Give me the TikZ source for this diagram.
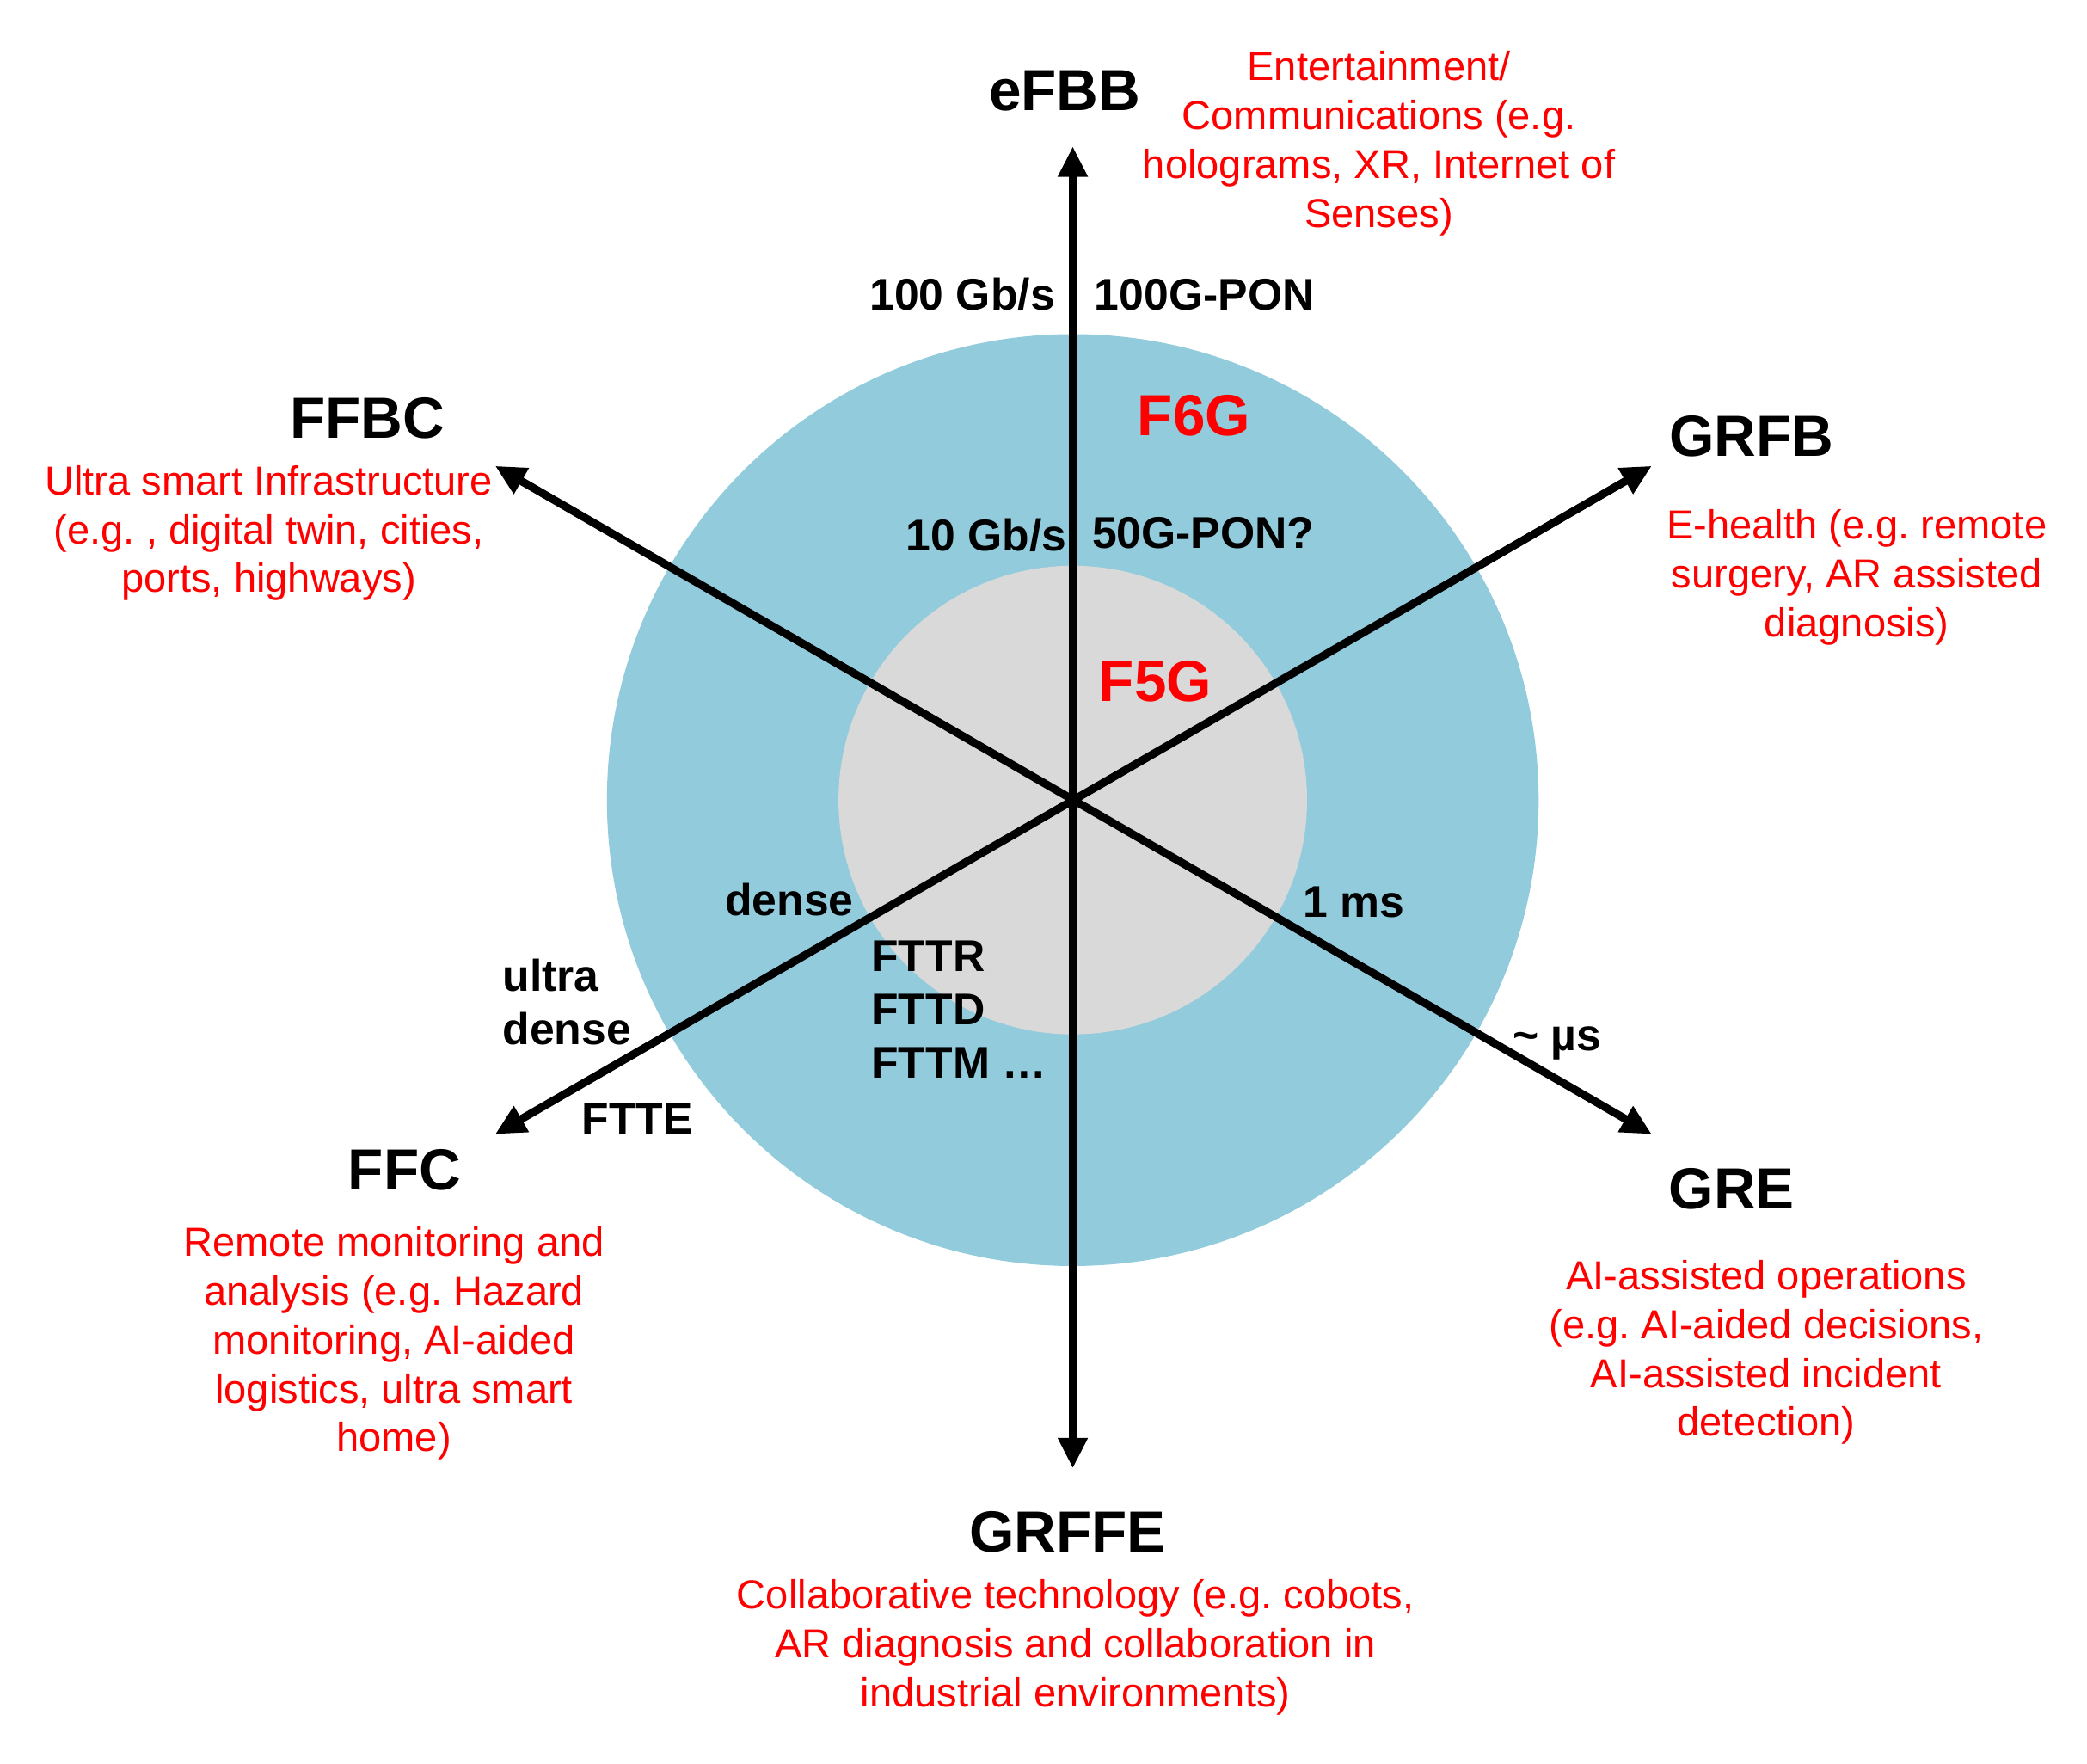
\documentclass[tikz,border=0pt]{standalone}
\usepackage{fontspec}
\setmainfont{Liberation Sans}
\usetikzlibrary{arrows.meta}
\frenchspacing

\definecolor{ringblue}{RGB}{146,203,220}
\definecolor{coregray}{RGB}{217,217,217}
\definecolor{usered}{RGB}{255,0,0}

\begin{document}
\begin{tikzpicture}[x=0.1mm, y=-0.1mm,
    axis/.style={line width=1.7pt, {Triangle[length=6.5pt,width=6pt]}-{Triangle[length=6.5pt,width=6pt]}},
    service/.style={font=\fontsize{12.4}{14.9}\selectfont\bfseries, inner sep=0pt, anchor=base},
    gen/.style={service, text=usered},
    usecase/.style={font=\fontsize{8.65}{10.44}\selectfont, text=usered, align=center, inner sep=0pt, anchor=north},
    metric/.style={font=\fontsize{9.5}{11.4}\selectfont\bfseries, inner sep=0pt, anchor=base},
    stack/.style={metric, align=left, anchor=north west}
]
\useasboundingbox (0,0) rectangle (1568,1325);

% Rings
\coordinate (o) at (806,601);
\fill[ringblue] (o) circle (350);
\fill[coregray] (o) circle (176);

% Axis ends
\coordinate (tn)  at (806,110);
\coordinate (ts)  at (806,1103);
\coordinate (tnw) at (372,350);
\coordinate (tne) at (1241,350);
\coordinate (tsw) at (372,852);
\coordinate (tse) at (1241,852);

% Axes
\draw[axis] (ts)  -- (tn);
\draw[axis] (tse) -- (tnw);
\draw[axis] (tsw) -- (tne);

% Services
\node[service] (efbb)  at (800,83)   {eFBB};
\node[service] (ffbc)  at (276,329)  {FFBC};
\node[service] (grfb)  at (1316,343) {GRFB};
\node[service] (ffc)   at (304,894)  {FFC};
\node[service] (gre)   at (1301,908) {GRE};
\node[service] (grffe) at (802,1166) {GRFFE};

% Use cases
\node[usecase] (efbbuse)  at (1036,38)  {Entertainment/\\Communications (e.g.\\holograms, XR, Internet of\\Senses)};
\node[usecase] (ffbcuse)  at (202,349)  {Ultra smart Infrastructure\\(e.g. , digital twin, cities,\\ports, highways)};
\node[usecase] (grfbuse)  at (1395,382) {E-health (e.g. remote\\surgery, AR assisted\\diagnosis)};
\node[usecase] (ffcuse)   at (296,921)  {Remote monitoring and\\analysis (e.g. Hazard\\monitoring, AI-aided\\logistics, ultra smart\\home)};
\node[usecase] (greuse)   at (1327,946) {AI-assisted operations\\(e.g. AI-aided decisions,\\AI-assisted incident\\detection)};
\node[usecase] (grffeuse) at (808,1186) {Collaborative technology (e.g. cobots,\\AR diagnosis and collaboration in\\industrial environments)};

% Generations
\node[gen] (f6g) at (897,327) {F6G};
\node[gen] (f5g) at (868,527) {F5G};

% Metrics
\node[metric] (rate6) at (723,233)  {100 Gb/s};
\node[metric] (pon6)  at (905,233)  {100G-PON};
\node[metric] (rate5) at (741,414)  {10 Gb/s};
\node[metric] (pon5)  at (904,412)  {50G-PON?};
\node[metric] (dens5) at (593,688)  {dense};
\node[metric] (lat5)  at (1017,689) {1 ms};
\node[metric] (lat6)  at (1170,789) {\textasciitilde{} µs};
\node[metric] (ftte)  at (479,852)  {FTTE};
\node[stack]  (dens6) at (377,720)  {ultra\\dense};
\node[stack]  (fttx)  at (654,706)  {FTTR\\FTTD\\FTTM …};

\end{tikzpicture}
\end{document}
